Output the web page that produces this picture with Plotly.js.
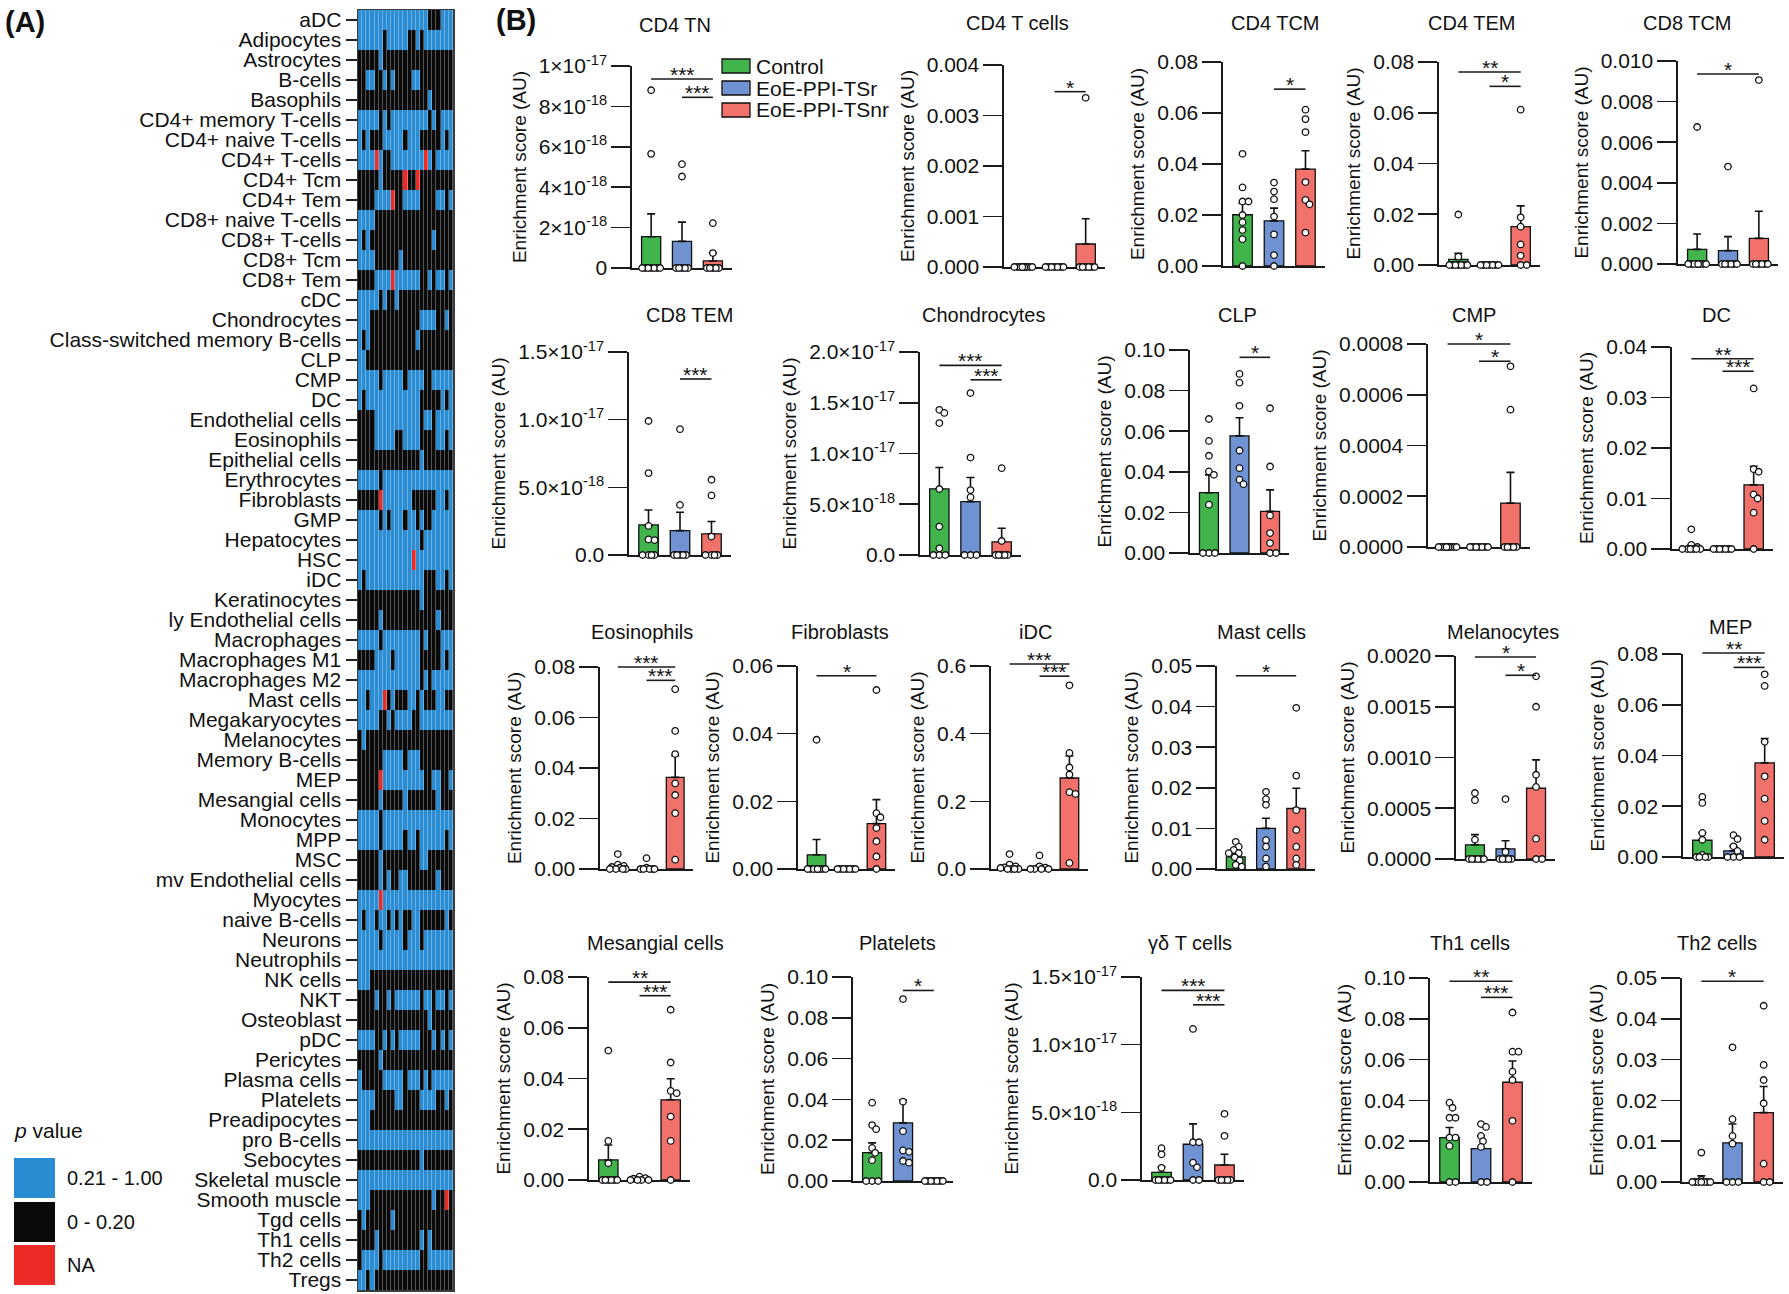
<!DOCTYPE html>
<html><head><meta charset="utf-8">
<script src="https://cdn.plot.ly/plotly-3.0.1.min.js"></script>
<style>html,body{margin:0;padding:0;background:#fff}#chart{width:1789px;height:1294px}</style>
</head><body><div id="chart"></div>
<script>
// ================= DATA =================
const cellTypes = ["aDC","Adipocytes","Astrocytes","B-cells","Basophils","CD4+ memory T-cells","CD4+ naive T-cells","CD4+ T-cells","CD4+ Tcm","CD4+ Tem","CD8+ naive T-cells","CD8+ T-cells","CD8+ Tcm","CD8+ Tem","cDC","Chondrocytes","Class-switched memory B-cells","CLP","CMP","DC","Endothelial cells","Eosinophils","Epithelial cells","Erythrocytes","Fibroblasts","GMP","Hepatocytes","HSC","iDC","Keratinocytes","ly Endothelial cells","Macrophages","Macrophages M1","Macrophages M2","Mast cells","Megakaryocytes","Melanocytes","Memory B-cells","MEP","Mesangial cells","Monocytes","MPP","MSC","mv Endothelial cells","Myocytes","naive B-cells","Neurons","Neutrophils","NK cells","NKT","Osteoblast","pDC","Pericytes","Plasma cells","Platelets","Preadipocytes","pro B-cells","Sebocytes","Skeletal muscle","Smooth muscle","Tgd cells","Th1 cells","Th2 cells","Tregs"];

// run-length coded rows over 23 samples: B = p 0.21-1.00, K = p 0-0.20, R = NA
const heatRows = ["17B3K3B","6B1K5B2K1B1K7B","5K1B17K","2K2B2K1B1K1B4K2B8K","17K1B5K","5B1K1B1K9B1K1B1K3B","1B1K1B3K5B1K3B5K1B1K1B","4B1R1B2K8B1R1B1K4B","5K1B5K1R2K1R8K","4K4B1R2K4B4K2B1K1B","4B19K","1B1K1B15K1B4K","4B6K1B12K","4K4B1R6B2K1B1K2B1K1B","5B1K1B2K1B13K","3B12K4B2K1B1K","1B1K1B11K1B8K","2B21K","5B1K5B1K4B2K5B","1B1K13B5K1B1K1B","4K11B1K2B1K4B","4K5B2K4B4K2B1K1B","15K1B7K","5B1K17B","5K1R7B6K2B1K1B","5B1K1B1K3B1K2B1K1B2K5B","15B1K7B","13B1R9B","1B1K14B3K2B1K1B","15K1B7K","5K1B13K1B3K","5B1K9B1K1B3K3B","4K4B1K6B5K1B1K1B","15B1K1B1K5B","2B1K3B1R1K1B3K2B1K1B3K2B2K","5B2K1B1K4B2K8B","1K1B21K","6K5B1K3B8K","5K1R10B2K2B2K1B","5K1B5K1B7K1B3K","5B1K17B","5B1K5B1K2B1K6B1K1B","5K1B9K2B6K","5K1B1K1B2K2B7K1B3K","5B1R17B","1B1K2B1K2B1K1B1K1B2K2B6K1B1K","5B1K5B1K3B1K7B","23B","3B20K","4K1B2K1B1K6B1K2B1K2B1K1B","17K1B5K","4B2K1B1K1B1K5B3K1B1K1B1K1B","5K1B17K","1B5K5B1K3B1K1B1K5B","4B5K2B4K4B2K1B1K","3B20K","23B","15K1B7K","23B","3B15K1B2K1R1K","1K1B6K1B14K","4K1B10K1B1K1B5K","1K4B1K9B2K6B","2B1K1B19K"];
const pLegendLabels = ["0.21 - 1.00", "0 - 0.20", "NA"];

const groupNames = ["Control", "EoE-PPI-TSr", "EoE-PPI-TSnr"];
const panelTitles = ["CD4 TN","CD4 T cells","CD4 TCM","CD4 TEM","CD8 TCM","CD8 TEM","Chondrocytes","CLP","CMP","DC","Eosinophils","Fibroblasts","iDC","Mast cells","Melanocytes","MEP","Mesangial cells","Platelets","γδ T cells","Th1 cells","Th2 cells"];

const ctrlPoints = [
 [8.8e-18,5.65e-18,0,0,0,0,0,0,0],
 [0,0,0,0,0,0,0,0,0],
 [0.044,0.0308,0.0253,0.0253,0.020,0.0172,0.0141,0.0105,0],
 [0.0199,0.0033,0,0,0,0,0,0,0],
 [0.00675,0,0,0,0,0,0,0,0],
 [9.9e-18,6.05e-18,2.15e-18,1.15e-18,1.1e-18,0,0,0,0],
 [1.43e-17,1.40e-17,1.30e-17,6.5e-18,2.8e-18,6.6e-19,0,0,0],
 [0.066,0.0552,0.0479,0.0402,0.0385,0.0238,0,0,0],
 [0,0,0,0,0,0,0,0,0],
 [0.0039,0.0008,0.0004,0,0,0,0,0,0],
 [0.0059,0.0017,0.0012,0.0008,0.0005,0,0,0,0],
 [0.0382,0,0,0,0,0,0,0,0],
 [0.044,0.013,0.008,0.005,0.003,0,0,0,0],
 [0.0067,0.0055,0.0047,0.0039,0.0039,0.0029,0.0021,0.001,0.0006],
 [0.00065,0.00058,0.00019,0,0,0,0,0,0],
 [0.0237,0.0213,0.0095,0.0068,0.0008,0,0,0,0],
 [0.051,0.0154,0.0066,0,0,0,0,0,0],
 [0.0384,0.0274,0.0254,0.0162,0.0138,0.0102,0,0,0],
 [2.35e-18,1.9e-18,0.9e-18,0,0,0,0,0,0],
 [0.0389,0.0364,0.0315,0.0315,0.0218,0.0218,0.0177,0,0],
 [0.0072,0.0005,0,0,0,0,0,0,0]
];
const tsrPoints = [
 [5.14e-18,4.53e-18,0,0,0,0,0],
 [0,0,0,0,0,0,0],
 [0.0327,0.0292,0.0262,0.0194,0.0124,0.0043,0],
 [0,0,0,0,0,0,0],
 [0.0048,0,0,0,0,0,0],
 [9.3e-18,3.7e-18,0,0,0,0,0],
 [1.595e-17,9.6e-18,6.4e-18,5.7e-18,0,0,0],
 [0.0882,0.0839,0.0725,0.0505,0.0418,0.0361,0.0339],
 [0,0,0,0,0,0,0],
 [0,0,0,0,0,0,0],
 [0.0043,0.0005,0,0,0,0,0],
 [0,0,0,0,0,0,0],
 [0.04,0.008,0.004,0,0,0,0],
 [0.019,0.0172,0.0158,0.0071,0.0055,0.0026,0.0006],
 [0.00059,0.00007,0,0,0,0,0],
 [0.0086,0.0071,0.0042,0.0024,0,0,0],
 [0.0013,0.0007,0.0005,0,0,0,0],
 [0.0892,0.0389,0.0244,0.015,0.0143,0.0098,0.009],
 [1.116e-17,2.79e-18,2.79e-18,1.28e-18,0.94e-18,0,0],
 [0.0284,0.027,0.0226,0.02,0.0172,0,0],
 [0.033,0.0154,0.0113,0.0094,0,0,0]
];
const tsnrPoints = [
 [2.22e-18,0.74e-18,0,0,0,0,0],
 [0.00335,0,0,0,0,0,0],
 [0.0613,0.0576,0.0525,0.0329,0.0259,0.0242,0.0131],
 [0.0612,0.0188,0.0151,0.0081,0.0037,0,0],
 [0.00906,0,0,0,0,0,0],
 [5.56e-18,4.4e-18,1.36e-18,0,0,0,0],
 [8.55e-18,1.38e-18,0,0,0,0,0],
 [0.0713,0.0426,0.0185,0.0098,0.0049,0,0],
 [0.000712,0.000541,0,0,0,0,0],
 [0.0318,0.0158,0.0153,0.0108,0.01,0.0072,0],
 [0.0712,0.0547,0.0455,0.0339,0.0293,0.0221,0.0037],
 [0.0529,0.0165,0.0153,0.0121,0.0082,0.0037,0],
 [0.543,0.343,0.30,0.279,0.227,0.222,0.018],
 [0.0397,0.023,0.0145,0.0096,0.0055,0.0026,0.001],
 [0.0018,0.0015,0.00083,0.00071,0.0002,0,0],
 [0.072,0.0674,0.0454,0.0318,0.023,0.0142,0.0068],
 [0.0671,0.0463,0.0351,0.0342,0.025,0.0154,0],
 [0,0,0,0,0,0,0],
 [4.89e-18,3.26e-18,0,0,0,0,0],
 [0.0831,0.0639,0.0639,0.0541,0.05,0.03,0],
 [0.0432,0.0287,0.025,0.0193,0.0045,0,0]
];
const barMeans = [
 [1.55e-18,1.32e-18,0.35e-18],[0,0,0.000455],[0.0201,0.0177,0.038],[0.0022,0,0.0151],[0.00072,0.00066,0.00126],
 [2.22e-18,1.8e-18,1.56e-18],[6.51e-18,5.26e-18,1.3e-18],[0.0297,0.0577,0.0205],[0,0,0.000173],[0.00045,0,0.0127],
 [0.001,0.0007,0.0363],[0.0042,0,0.0134],[0.006,0.006,0.269],[0.003,0.01,0.0149],[0.00014,0.0001,0.000697],[0.0066,0.0024,0.0371],
 [0.0079,0.0003,0.0316],[0.0139,0.0285,0],[0.57e-18,2.64e-18,1.11e-18],[0.0218,0.0164,0.0489],[0.0003,0.0096,0.017]
];
const barSems = [
 [1.13e-18,0.95e-18,0.39e-18],[0,0,0.0005],[0.0044,0.005,0.0072],[0.0024,0,0.0082],[0.00076,0.00069,0.00134],
 [1.11e-18,1.36e-18,0.91e-18],[2.11e-18,2.37e-18,1.33e-18],[0.0088,0.0089,0.0106],[0,0,0.000121],[0.00045,0,0.0037],
 [0.0006,0.0006,0.0086],[0.0045,0,0.0071],[0.005,0.005,0.065],[0.0007,0.0025,0.005],[0.0001,0.00008,0.00028],[0.003,0.0018,0.0096],
 [0.0059,0.0002,0.0083],[0.0048,0.0112,0],[0.39e-18,1.51e-18,0.79e-18],[0.0049,0.0062,0.0104],[0.0012,0.0046,0.0064]
];
const yMaxes = [1e-17,0.004,0.08,0.08,0.010,1.5e-17,2e-17,0.10,0.0008,0.04,0.08,0.06,0.6,0.05,0.0020,0.08,0.08,0.10,1.5e-17,0.10,0.05];
const yTickSteps = [2e-18,0.001,0.02,0.02,0.002,5e-18,5e-18,0.02,0.0002,0.01,0.02,0.02,0.2,0.01,0.0005,0.02,0.02,0.02,5e-18,0.02,0.01];
const yTickDecimals = [null,3,2,2,3,null,null,2,4,2,2,2,1,2,4,2,2,2,null,2,2];
const sciTicksCD4TN = ["0","2×10<sup>-18</sup>","4×10<sup>-18</sup>","6×10<sup>-18</sup>","8×10<sup>-18</sup>","1×10<sup>-17</sup>"];
const sciTicks15 = ["0.0","5.0×10<sup>-18</sup>","1.0×10<sup>-17</sup>","1.5×10<sup>-17</sup>"];
const sciTicks20 = ["0.0","5.0×10<sup>-18</sup>","1.0×10<sup>-17</sup>","1.5×10<sup>-17</sup>","2.0×10<sup>-17</sup>"];
// significance brackets: [group from, group to, label, height as fraction of axis max]
const sigBars = [
 [[0,2,"***",0.936],[1,2,"***",0.845]],
 [[1,2,"*",0.868]],
 [[1,2,"*",0.867]],
 [[0,2,"**",0.951],[1,2,"*",0.88]],
 [[0,2,"*",0.936]],
 [[1,2,"***",0.867]],
 [[0,2,"***",0.934],[1,2,"***",0.863]],
 [[1,2,"*",0.964]],
 [[0,2,"*",1.0],[1,2,"*",0.915]],
 [[0,2,"**",0.942],[1,2,"***",0.88]],
 [[0,2,"***",1.0],[1,2,"***",0.934]],
 [[0,2,"*",0.952]],
 [[0,2,"***",1.01],[1,2,"***",0.95]],
 [[0,2,"*",0.952]],
 [[0,2,"*",0.995],[1,2,"*",0.905]],
 [[0,2,"**",1.005],[1,2,"***",0.934]],
 [[0,2,"**",0.975],[1,2,"***",0.908]],
 [[1,2,"*",0.934]],
 [[0,2,"***",0.934],[1,2,"***",0.863]],
 [[0,2,"**",0.984],[1,2,"***",0.905]],
 [[0,2,"*",0.984]]
];

// ================= LAYOUT GEOMETRY (px) =================
const W = 1789, H = 1294;
// [y-axis x, x-axis end, top y, zero y, title x, title y]
const panelGeom = [
 [632,732,66,268,675,25],[1004,1105,65,267,1017,23],[1223,1325,62,266,1275,23],[1439,1540,62,265,1471,23],[1678,1778,61,264,1687,23],
 [629,731,352,555,689,315],[920,1021,352,555,983,315],[1190,1289,350,553,1237,315],[1428,1530,344,547,1474,315],[1672,1773,347,549,1716,315],
 [600,693,667,869,642,632],[798,895,666,869,840,632],[991,1088,666,869,1035,632],[1217,1315,666,869,1261,632],[1456,1555,656,859,1503,632],[1683,1784,654,857,1730,627],
 [589,690,977,1180,655,943],[853,953,977,1181,897,943],[1142,1244,977,1180,1190,943],[1430,1532,978,1182,1470,943],[1682,1783,978,1182,1717,943]
];
const FONT = '"Liberation Sans", Arial, Helvetica, sans-serif';
const barColors = ['#41b54c','#6f92d3','#f2716b'];
const heatBlue = '#2a8cd2', heatBlack = '#0a0a0a', heatRed = '#ec2b26';
const AX = '#1a1a1a';
const X = p => p / W, Y = p => 1 - p / H;

const data = [], shapes = [], annotations = [];
const layout = {width: W, height: H, margin: {l:0, r:0, t:0, b:0}, paper_bgcolor: '#fff', plot_bgcolor: 'rgba(0,0,0,0)',
  font: {family: FONT, color: '#111'}, showlegend: false, shapes, annotations};

// ---------- Heatmap (A) ----------
function decodeRow(s) {
  const out = []; const re = /(\d+)([BKR])/g; let m;
  while ((m = re.exec(s))) for (let i = 0; i < +m[1]; i++) out.push(m[2] === 'K' ? 0 : m[2] === 'B' ? 1 : 2);
  return out;
}
const z = heatRows.map(decodeRow);
const sampleIdx = z[0].map((_, i) => i);
data.push({type: 'heatmap', z, x: sampleIdx, y: cellTypes, xaxis: 'x', yaxis: 'y', zmin: -0.5, zmax: 2.5,
  colorscale: [[0, heatBlack],[1/3, heatBlack],[1/3, heatBlue],[2/3, heatBlue],[2/3, heatRed],[1, heatRed]],
  showscale: false, xgap: 0.3, ygap: 0, hoverinfo: 'skip'});
layout.xaxis = {domain: [X(358), X(453)], range: [-0.5, sampleIdx.length - 0.5], showticklabels: false, ticks: '', showgrid: false,
  zeroline: false, showline: true, mirror: true, linecolor: '#3c3c3c', linewidth: 1.5, anchor: 'y', fixedrange: true};
layout.yaxis = {domain: [Y(1290), Y(10)], type: 'category', autorange: 'reversed', tickmode: 'array', tickvals: cellTypes, ticktext: cellTypes,
  ticks: 'outside', ticklen: 11, tickwidth: 1.5,
  tickcolor: '#222', tickfont: {size: 21, family: FONT, color: '#111'}, showgrid: false, zeroline: false, showline: true, mirror: true,
  linecolor: '#3c3c3c', linewidth: 1.5, anchor: 'x', fixedrange: true};

// p value legend
annotations.push({xref: 'paper', yref: 'paper', x: X(12), y: Y(1130), xanchor: 'left', yanchor: 'middle', showarrow: false,
  text: '<i>p</i> value', font: {size: 21, family: FONT, color: '#111'}});
const legSw = [[1158,1198],[1202,1242],[1245,1285]];
const legCols = [heatBlue, heatBlack, heatRed];
legSw.forEach((r, i) => {
  shapes.push({type: 'rect', xref: 'paper', yref: 'paper', x0: X(14), x1: X(55), y0: Y(r[1]), y1: Y(r[0]), fillcolor: legCols[i], line: {width: 0}});
  annotations.push({xref: 'paper', yref: 'paper', x: X(65), y: Y((r[0] + r[1]) / 2), xanchor: 'left', yanchor: 'middle', showarrow: false,
    text: pLegendLabels[i], font: {size: 20, family: FONT, color: '#111'}});
});

// panel letters
annotations.push({xref:'paper', yref:'paper', x: X(3), y: Y(22), xanchor:'left', yanchor:'middle', showarrow:false, text:'<b>(A)</b>', font:{size:29, family: FONT, color:'#111'}});
annotations.push({xref:'paper', yref:'paper', x: X(494), y: Y(20), xanchor:'left', yanchor:'middle', showarrow:false, text:'<b>(B)</b>', font:{size:29, family: FONT, color:'#111'}});

// ---------- beeswarm offsets (px -> data units) ----------
function swarm(vals, pxu, pyu, maxOff) {
  const order = vals.map((v, i) => i).sort((a, b) => vals[b] - vals[a]);
  const placed = []; const off = new Array(vals.length).fill(0);
  const D = 5.5;
  order.forEach(i => {
    const yp = vals[i] * pyu;
    const cands = [0]; for (let d = 1; d <= maxOff; d++) cands.push(d, -d);
    let chosen = null, fb = 0, fbScore = -1;
    for (const c of cands) {
      let md = Infinity;
      for (const p of placed) { const dd = Math.hypot(c - p[0], yp - p[1]); if (dd < md) md = dd; }
      if (md >= D) { chosen = c; break; }
      if (md > fbScore + 1e-9) { fbScore = md; fb = c; }
    }
    if (chosen === null) chosen = fb;
    placed.push([chosen, yp]); off[i] = chosen / pxu;
  });
  return off;
}

// ---------- Bar panels (B) ----------
const groupPoints = [ctrlPoints, tsrPoints, tsnrPoints];
panelTitles.forEach((title, i) => {
  const n = i + 2, xa = 'x' + n, ya = 'y' + n;
  const [ax, ex, ty, zy, tx, tty] = panelGeom[i];
  const xr = [-0.62, 2.62];
  const yMax = yMaxes[i], step = yTickSteps[i];
  const pxu = (ex - ax) / (xr[1] - xr[0]);
  const pyu = (zy - ty) / yMax;
  const bw = 0.62;
  const nt = Math.round(yMax / step);
  const tickvals = [], ticktext = [];
  const sci = i === 0 ? sciTicksCD4TN : (i === 6 ? sciTicks20 : ((i === 5 || i === 18) ? sciTicks15 : null));
  for (let k = 0; k <= nt; k++) { tickvals.push(k * step); ticktext.push(sci ? sci[k] : (k * step).toFixed(yTickDecimals[i])); }

  layout['xaxis' + n] = {domain: [X(ax), X(ex)], range: xr, anchor: ya, showticklabels: false, ticks: '', showgrid: false, zeroline: false,
    showline: true, linecolor: AX, linewidth: 1.6, layer: 'below traces', fixedrange: true};
  layout['yaxis' + n] = {domain: [Y(zy), Y(ty)], range: [0, yMax], anchor: xa, tickmode: 'array', tickvals, ticktext,
    ticks: 'outside', ticklen: 19, tickwidth: 1.6, tickcolor: AX, showline: true, linecolor: AX, linewidth: 1.6,
    showgrid: false, zeroline: false, layer: 'below traces', fixedrange: true,
    tickfont: {size: 21, family: FONT, color: '#111'},
    title: {text: 'Enrichment score (AU)', font: {size: 19, family: FONT, color: '#111'}, standoff: 7}};

  data.push({type: 'bar', x: [0, 1, 2], y: barMeans[i], width: bw, xaxis: xa, yaxis: ya, hoverinfo: 'skip',
    marker: {color: barColors, line: {color: '#111', width: 1.3}},
    error_y: {type: 'data', symmetric: false, array: barSems[i].map(v => v > 0 ? v : null), arrayminus: [0, 0, 0],
      color: '#111', thickness: 1.6, width: 4}});

  const px = [], py = [];
  groupPoints.forEach((gp, g) => {
    const vals = gp[i];
    const off = swarm(vals, pxu, pyu, Math.min(10, bw * pxu / 2));
    vals.forEach((v, k) => { px.push(g + off[k]); py.push(v); });
  });
  data.push({type: 'scatter', mode: 'markers', x: px, y: py, xaxis: xa, yaxis: ya, cliponaxis: false, hoverinfo: 'skip',
    marker: {size: 6.5, color: '#fff', line: {color: '#111', width: 1.3}}});

  // significance brackets, placed on the paper using this panel's axis mapping
  const gx = g => X(ax + (g - xr[0]) * pxu);
  const vy = v => Y(zy - v * pyu);
  sigBars[i].forEach(s => {
    const yv = s[3] * yMax;
    shapes.push({type: 'line', xref: 'paper', yref: 'paper', x0: gx(s[0]), x1: gx(s[1]), y0: vy(yv), y1: vy(yv), line: {color: AX, width: 1.6}});
    annotations.push({xref: 'paper', yref: 'paper', x: (gx(s[0]) + gx(s[1])) / 2, y: vy(yv), xanchor: 'center', yanchor: 'bottom', yshift: -9,
      showarrow: false, text: s[2], font: {size: 21, family: FONT, color: '#111'}});
  });

  annotations.push({xref: 'paper', yref: 'paper', x: X(tx), y: Y(tty), xanchor: 'center', yanchor: 'middle', showarrow: false,
    text: title, font: {size: 20, family: FONT, color: '#111'}});
});

// group legend (inside CD4 TN panel area)
const grpLegRows = [[59,73],[81,95],[103,117]];
grpLegRows.forEach((r, g) => {
  shapes.push({type: 'rect', xref: 'paper', yref: 'paper', x0: X(722), x1: X(750), y0: Y(r[1]), y1: Y(r[0]), fillcolor: barColors[g], line: {color: '#111', width: 1.3}});
  annotations.push({xref: 'paper', yref: 'paper', x: X(754), y: Y((r[0] + r[1]) / 2), xanchor: 'left', yanchor: 'middle', showarrow: false,
    text: groupNames[g], font: {size: 21, family: FONT, color: '#111'}});
});

Plotly.newPlot('chart', data, layout, {staticPlot: true, displayModeBar: false});
</script>
</body></html>
